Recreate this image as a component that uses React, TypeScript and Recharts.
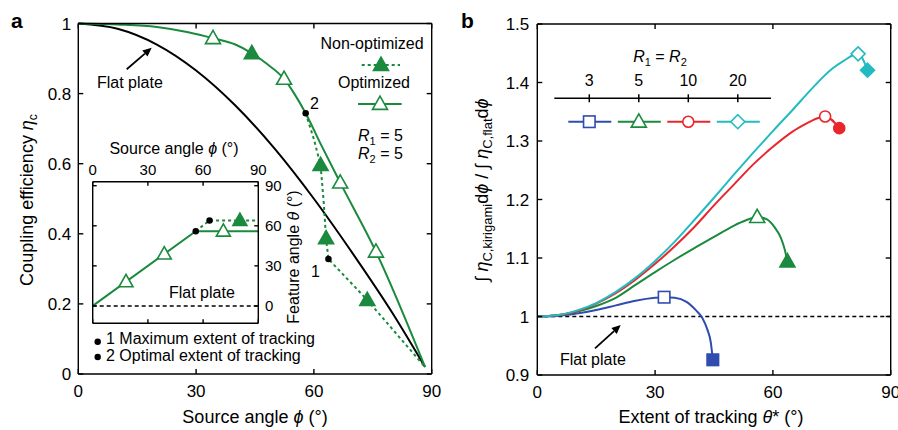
import React from "react";
import { ComposedChart, Line, Scatter, XAxis, YAxis, ReferenceLine } from "recharts";

const FONT = "'Liberation Sans', Arial, Helvetica, sans-serif";
const GREEN = "#1b8a3e";
const BLUE = "#2f4cae";
const RED = "#e8262c";
const CYAN = "#22bcc0";

// ---------- panel a : coupling efficiency vs source angle
const phiTicks = [0, 30, 60, 90];
const etaTicks = [0, 0.2, 0.4, 0.6, 0.8, 1];
const flatPlate = [
  { x: 0, y: 1 }, { x: 10, y: 0.985 }, { x: 20, y: 0.94 }, { x: 30, y: 0.866 },
  { x: 40, y: 0.766 }, { x: 50, y: 0.643 }, { x: 60, y: 0.5 }, { x: 70, y: 0.342 },
  { x: 80, y: 0.174 }, { x: 88.3, y: 0.02 },
];
const optimized = [
  { x: 0, y: 1 }, { x: 10, y: 0.997 }, { x: 20, y: 0.99 }, { x: 28, y: 0.975 },
  { x: 34.3, y: 0.958 }, { x: 40, y: 0.94 }, { x: 44.2, y: 0.915 }, { x: 48, y: 0.885 },
  { x: 52.4, y: 0.842 }, { x: 55, y: 0.8 }, { x: 57.9, y: 0.744 }, { x: 62, y: 0.65 },
  { x: 66.7, y: 0.546 }, { x: 75.8, y: 0.349 }, { x: 88.3, y: 0.02 },
];
const nonOptimized = [
  { x: 57.9, y: 0.744 }, { x: 60, y: 0.67 }, { x: 61.7, y: 0.596 }, { x: 62.5, y: 0.49 },
  { x: 63.1, y: 0.387 }, { x: 63.7, y: 0.328 }, { x: 73.6, y: 0.211 }, { x: 88.3, y: 0.02 },
];
const optMarkers = [
  { x: 34.3, y: 0.958 }, { x: 52.4, y: 0.842 }, { x: 66.7, y: 0.546 }, { x: 75.8, y: 0.349 },
];
const nonOptMarkers = [
  { x: 44.2, y: 0.915 }, { x: 61.7, y: 0.596 }, { x: 63.1, y: 0.387 }, { x: 73.6, y: 0.211 },
];
const trackingDots = [{ x: 57.9, y: 0.744 }, { x: 63.7, y: 0.328 }];

// ---------- inset : feature angle vs source angle
const insetTicks = [0, 30, 60, 90];
const insetOptimized = [{ x: 0, y: 0 }, { x: 56, y: 56 }, { x: 90, y: 56 }];
const insetNonOptimized = [{ x: 56, y: 56 }, { x: 63.5, y: 64 }, { x: 90, y: 64 }];
const insetOptMarkers = [{ x: 18.1, y: 18.1 }, { x: 38.9, y: 38.9 }, { x: 71, y: 56 }];
const insetNonOptMarkers = [{ x: 80, y: 64 }];
const insetDots = [{ x: 56, y: 56 }, { x: 63.5, y: 64 }];

// ---------- panel b : integrated efficiency ratio vs extent of tracking
const thetaTicks = [0, 30, 60, 90];
const ratioTicks = [0.9, 1, 1.1, 1.2, 1.3, 1.4, 1.5];
const r3 = [
  { x: 0, y: 1 }, { x: 5, y: 1.001 }, { x: 10, y: 1.005 }, { x: 15, y: 1.011 },
  { x: 20, y: 1.019 }, { x: 25, y: 1.027 }, { x: 30, y: 1.032 }, { x: 32.3, y: 1.033 },
  { x: 35, y: 1.032 }, { x: 38, y: 1.025 }, { x: 40.5, y: 1.01 }, { x: 42, y: 0.998 },
  { x: 43.3, y: 0.978 }, { x: 44.2, y: 0.955 }, { x: 44.7, y: 0.926 },
];
const r5 = [
  { x: 0, y: 1 }, { x: 5, y: 1.002 }, { x: 10, y: 1.008 }, { x: 15, y: 1.018 },
  { x: 20, y: 1.032 }, { x: 25, y: 1.054 }, { x: 30, y: 1.076 }, { x: 35, y: 1.097 },
  { x: 40, y: 1.117 }, { x: 45, y: 1.136 }, { x: 50, y: 1.155 }, { x: 53, y: 1.164 },
  { x: 56, y: 1.17 }, { x: 58.5, y: 1.166 }, { x: 60.5, y: 1.152 }, { x: 62, y: 1.135 },
  { x: 63, y: 1.115 }, { x: 63.7, y: 1.094 },
];
const r10 = [
  { x: 0, y: 1 }, { x: 5, y: 1.002 }, { x: 10, y: 1.009 }, { x: 15, y: 1.022 },
  { x: 20, y: 1.04 }, { x: 25, y: 1.063 }, { x: 30, y: 1.09 }, { x: 35, y: 1.12 },
  { x: 40, y: 1.153 }, { x: 45, y: 1.19 }, { x: 50, y: 1.225 }, { x: 55, y: 1.26 },
  { x: 60, y: 1.29 }, { x: 65, y: 1.316 }, { x: 68.6, y: 1.33 }, { x: 71, y: 1.338 },
  { x: 73.3, y: 1.342 }, { x: 76.9, y: 1.322 },
];
const r20 = [
  { x: 0, y: 1 }, { x: 5, y: 1.002 }, { x: 10, y: 1.01 }, { x: 15, y: 1.023 },
  { x: 20, y: 1.042 }, { x: 25, y: 1.066 }, { x: 30, y: 1.095 }, { x: 35, y: 1.128 },
  { x: 40, y: 1.165 }, { x: 45, y: 1.203 }, { x: 50, y: 1.242 }, { x: 55, y: 1.28 },
  { x: 60, y: 1.317 }, { x: 65, y: 1.353 }, { x: 70, y: 1.39 }, { x: 75, y: 1.423 },
  { x: 78, y: 1.437 }, { x: 81.7, y: 1.449 }, { x: 84.1, y: 1.421 },
];
const r3Optimal = [{ x: 32.3, y: 1.033 }];
const r3Max = [{ x: 44.7, y: 0.926 }];
const r5Optimal = [{ x: 56, y: 1.17 }];
const r5Max = [{ x: 63.7, y: 1.094 }];
const r10Optimal = [{ x: 73.3, y: 1.342 }];
const r10Max = [{ x: 76.9, y: 1.322 }];
const r20Optimal = [{ x: 81.7, y: 1.449 }];
const r20Max = [{ x: 84.1, y: 1.421 }];
const legendR = ["3", "5", "10", "20"];

type Kind = "tri" | "sq" | "circ" | "dia" | "dot";

const shape = (kind: Kind, color: string, filled: boolean, s = 14) => (p: any) => {
  const { cx, cy } = p;
  const fill = filled ? color : "#fff";
  const sw = 1.6;
  if (kind === "tri")
    return (
      <polygon
        points={`${cx},${cy - s * 0.52} ${cx - s / 2},${cy + s * 0.36} ${cx + s / 2},${cy + s * 0.36}`}
        fill={fill}
        stroke={color}
        strokeWidth={sw}
      />
    );
  if (kind === "sq")
    return <rect x={cx - s / 2} y={cy - s / 2} width={s} height={s} fill={fill} stroke={color} strokeWidth={sw} />;
  if (kind === "circ") return <circle cx={cx} cy={cy} r={s / 2} fill={fill} stroke={color} strokeWidth={sw} />;
  if (kind === "dia")
    return (
      <polygon
        points={`${cx},${cy - s / 2} ${cx + s / 2},${cy} ${cx},${cy + s / 2} ${cx - s / 2},${cy}`}
        fill={fill}
        stroke={color}
        strokeWidth={sw}
      />
    );
  return <circle cx={cx} cy={cy} r={s / 2} fill={color} />;
};

const axisLine = { stroke: "#000", strokeWidth: 1.4 };
const tickA = { fill: "#000", fontSize: 17 };
const tickInset = { fill: "#000", fontSize: 15 };
const blank = () => "";

function arrow(x1: number, y1: number, x2: number, y2: number) {
  const a = Math.atan2(y2 - y1, x2 - x1);
  const L = 9;
  const W = 4;
  const bx = x2 - L * Math.cos(a);
  const by = y2 - L * Math.sin(a);
  const px = -Math.sin(a) * W;
  const py = Math.cos(a) * W;
  return (
    <g>
      <line x1={x1} y1={y1} x2={bx} y2={by} stroke="#000" strokeWidth={1.8} />
      <polygon points={`${x2},${y2} ${bx + px},${by + py} ${bx - px},${by - py}`} fill="#000" />
    </g>
  );
}

function PanelA() {
  return (
    <ComposedChart width={450} height={430} margin={{ top: 0, right: 0, bottom: 0, left: 0 }}>
      <XAxis type="number" dataKey="x" domain={[0, 90]} ticks={phiTicks} interval={0} height={56}
        tickSize={-5} tickMargin={16} tick={tickA} axisLine={axisLine} tickLine={axisLine} />
      <XAxis xAxisId="t" orientation="top" type="number" dataKey="x" domain={[0, 90]} ticks={phiTicks}
        interval={0} height={23.5} tickSize={-5} tickFormatter={blank} axisLine={axisLine} tickLine={axisLine} />
      <YAxis type="number" dataKey="y" domain={[0, 1]} ticks={etaTicks} interval={0} width={78.3}
        tickSize={-5} tickMargin={12} tick={tickA} axisLine={axisLine} tickLine={axisLine} />
      <YAxis yAxisId="r" orientation="right" type="number" dataKey="y" domain={[0, 1]} ticks={etaTicks}
        interval={0} width={18.3} tickSize={-5} tickFormatter={blank} axisLine={axisLine} tickLine={axisLine} />
      {/* invisible series so the mirrored frame axes get their ticks */}
      <Line data={flatPlate} dataKey="y" xAxisId="t" yAxisId="r" stroke="none" dot={false} isAnimationActive={false} />
      <Line data={flatPlate} dataKey="y" type="monotone" stroke="#000" strokeWidth={2} dot={false} isAnimationActive={false} />
      <Line data={nonOptimized} dataKey="y" type="linear" stroke={GREEN} strokeWidth={2} strokeDasharray="3 3"
        dot={false} isAnimationActive={false} />
      <Line data={optimized} dataKey="y" type="monotone" stroke={GREEN} strokeWidth={2} dot={false} isAnimationActive={false} />
      <Scatter data={optMarkers} shape={shape("tri", GREEN, false, 15)} isAnimationActive={false} />
      <Scatter data={nonOptMarkers} shape={shape("tri", GREEN, true, 15)} isAnimationActive={false} />
      <Scatter data={trackingDots} shape={shape("dot", "#000", true, 6.5)} isAnimationActive={false} />
    </ComposedChart>
  );
}

function Inset() {
  return (
    <ComposedChart width={220} height={180} margin={{ top: 0, right: 0, bottom: 0, left: 0 }}>
      <XAxis type="number" dataKey="x" domain={[0, 90]} ticks={insetTicks} interval={0} height={6.7}
        tickSize={-4} tickFormatter={blank} axisLine={axisLine} tickLine={axisLine} />
      <XAxis xAxisId="t" orientation="top" type="number" dataKey="x" domain={[0, 90]} ticks={insetTicks}
        interval={0} height={31.7} tickSize={-4} tickMargin={10.7} tick={tickInset} axisLine={axisLine} tickLine={axisLine} />
      <YAxis type="number" dataKey="y" domain={[-13, 93]} ticks={insetTicks} interval={0} width={12.7}
        tickSize={-4} tickFormatter={blank} axisLine={axisLine} tickLine={axisLine} />
      <YAxis yAxisId="r" orientation="right" type="number" dataKey="y" domain={[-13, 93]} ticks={insetTicks}
        interval={0} width={41.7} tickSize={-4} tickMargin={10.7} tick={tickInset} axisLine={axisLine} tickLine={axisLine} />
      <Line data={insetOptimized} dataKey="y" xAxisId="t" yAxisId="r" stroke="none" dot={false} isAnimationActive={false} />
      <ReferenceLine y={0} stroke="#000" strokeWidth={1.6} strokeDasharray="4 3" />
      <Line data={insetNonOptimized} dataKey="y" type="linear" stroke={GREEN} strokeWidth={2} strokeDasharray="3 3"
        dot={false} isAnimationActive={false} />
      <Line data={insetOptimized} dataKey="y" type="linear" stroke={GREEN} strokeWidth={2} dot={false} isAnimationActive={false} />
      <Scatter data={insetOptMarkers} shape={shape("tri", GREEN, false, 14)} isAnimationActive={false} />
      <Scatter data={insetNonOptMarkers} shape={shape("tri", GREEN, true, 14)} isAnimationActive={false} />
      <Scatter data={insetDots} shape={shape("dot", "#000", true, 6.5)} isAnimationActive={false} />
    </ComposedChart>
  );
}

function PanelB() {
  return (
    <ComposedChart width={448} height={430} margin={{ top: 0, right: 0, bottom: 0, left: 0 }}>
      <XAxis type="number" dataKey="x" domain={[0, 90]} ticks={thetaTicks} interval={0} height={55}
        tickSize={-5} tickMargin={16} tick={tickA} axisLine={axisLine} tickLine={axisLine} />
      <XAxis xAxisId="t" orientation="top" type="number" dataKey="x" domain={[0, 90]} ticks={thetaTicks}
        interval={0} height={24} tickSize={-5} tickFormatter={blank} axisLine={axisLine} tickLine={axisLine} />
      <YAxis type="number" dataKey="y" domain={[0.9, 1.5]} ticks={ratioTicks} interval={0} width={87.3}
        tickSize={-5} tickMargin={13} tick={tickA} axisLine={axisLine} tickLine={axisLine} />
      <YAxis yAxisId="r" orientation="right" type="number" dataKey="y" domain={[0.9, 1.5]} ticks={ratioTicks}
        interval={0} width={7.3} tickSize={-5} tickFormatter={blank} axisLine={axisLine} tickLine={axisLine} />
      <Line data={r3} dataKey="y" xAxisId="t" yAxisId="r" stroke="none" dot={false} isAnimationActive={false} />
      <ReferenceLine y={1} stroke="#000" strokeWidth={1.6} strokeDasharray="4 3" />
      <Line data={r3} dataKey="y" type="monotone" stroke={BLUE} strokeWidth={2} dot={false} isAnimationActive={false} />
      <Line data={r5} dataKey="y" type="monotone" stroke={GREEN} strokeWidth={2} dot={false} isAnimationActive={false} />
      <Line data={r10} dataKey="y" type="monotone" stroke={RED} strokeWidth={2} dot={false} isAnimationActive={false} />
      <Line data={r20} dataKey="y" type="monotone" stroke={CYAN} strokeWidth={2} dot={false} isAnimationActive={false} />
      <Scatter data={r3Optimal} shape={shape("sq", BLUE, false, 11.5)} isAnimationActive={false} />
      <Scatter data={r3Max} shape={shape("sq", BLUE, true, 11.5)} isAnimationActive={false} />
      <Scatter data={r5Optimal} shape={shape("tri", GREEN, false, 15)} isAnimationActive={false} />
      <Scatter data={r5Max} shape={shape("tri", GREEN, true, 15)} isAnimationActive={false} />
      <Scatter data={r10Optimal} shape={shape("circ", RED, false, 11)} isAnimationActive={false} />
      <Scatter data={r10Max} shape={shape("circ", RED, true, 11)} isAnimationActive={false} />
      <Scatter data={r20Optimal} shape={shape("dia", CYAN, false, 14)} isAnimationActive={false} />
      <Scatter data={r20Max} shape={shape("dia", CYAN, true, 14)} isAnimationActive={false} />
    </ComposedChart>
  );
}

function Overlay() {
  const legendKinds: [Kind, string][] = [["sq", BLUE], ["tri", GREEN], ["circ", RED], ["dia", CYAN]];
  const legendSize = [11.5, 15, 11, 14];
  return (
    <svg width={898} height={430} style={{ position: "absolute", left: 0, top: 0, pointerEvents: "none" }}
      fontFamily={FONT}>
      <text x={11} y={28} fontSize={21} fontWeight="bold">a</text>
      <text x={461} y={28} fontSize={21} fontWeight="bold">b</text>

      {/* panel a axis titles */}
      <text x={255} y={423} fontSize={18} textAnchor="middle">
        Source angle <tspan fontStyle="italic">ϕ</tspan> (°)
      </text>
      <text transform="translate(33,200) rotate(-90)" fontSize={18} textAnchor="middle">
        Coupling efficiency <tspan fontStyle="italic">η</tspan>
        <tspan fontSize={12} dy={4}>c</tspan>
      </text>

      {/* panel a annotations */}
      <text x={97} y={88} fontSize={16}>Flat plate</text>
      {arrow(126.7, 69.3, 151.7, 47.7)}
      <text x={310} y={109} fontSize={16}>2</text>
      <text x={311} y={277} fontSize={16}>1</text>

      <text x={372} y={49} fontSize={16} textAnchor="middle">Non-optimized</text>
      <line x1={361.7} y1={65} x2={400} y2={65} stroke={GREEN} strokeWidth={2} strokeDasharray="3 3" />
      {shape("tri", GREEN, true, 15)({ cx: 381, cy: 65 })}
      <text x={374} y={88} fontSize={16} textAnchor="middle">Optimized</text>
      <line x1={358} y1={104} x2={401.7} y2={104} stroke={GREEN} strokeWidth={2} />
      {shape("tri", GREEN, false, 15)({ cx: 380, cy: 104 })}
      <text x={358} y={140.7} fontSize={16}>
        <tspan fontStyle="italic">R</tspan>
        <tspan fontSize={11} dy={4}>1</tspan>
        <tspan dy={-4}> = 5</tspan>
      </text>
      <text x={358} y={159} fontSize={16}>
        <tspan fontStyle="italic">R</tspan>
        <tspan fontSize={11} dy={4}>2</tspan>
        <tspan dy={-4}> = 5</tspan>
      </text>

      {/* inset titles */}
      <text x={174} y={154} fontSize={16} textAnchor="middle">
        Source angle <tspan fontStyle="italic">ϕ</tspan> (°)
      </text>
      <text transform="translate(299,257) rotate(-90)" fontSize={16} textAnchor="middle">
        Feature angle <tspan fontStyle="italic">θ</tspan> (°)
      </text>
      <text x={169} y={298} fontSize={16}>Flat plate</text>

      <circle cx={97.7} cy={341.7} r={3.2} fill="#000" />
      <text x={106} y={344} fontSize={16}>1 Maximum extent of tracking</text>
      <circle cx={97.7} cy={357} r={3.2} fill="#000" />
      <text x={106} y={360.5} fontSize={16}>2 Optimal extent of tracking</text>

      {/* panel b axis titles */}
      <text x={711} y={423} fontSize={18} textAnchor="middle">
        Extent of tracking <tspan fontStyle="italic">θ</tspan>* (°)
      </text>
      <text transform="translate(488,190) rotate(-90)" fontSize={18} textAnchor="middle">
        ∫ <tspan fontStyle="italic">η</tspan>
        <tspan fontSize={13} dy={4}>C,kirigami</tspan>
        <tspan dy={-4}>d</tspan>
        <tspan fontStyle="italic">ϕ</tspan> / ∫ <tspan fontStyle="italic">η</tspan>
        <tspan fontSize={13} dy={4}>C,flat</tspan>
        <tspan dy={-4}>d</tspan>
        <tspan fontStyle="italic">ϕ</tspan>
      </text>

      {/* panel b legend */}
      <text x={660} y={62} fontSize={16} textAnchor="middle">
        <tspan fontStyle="italic">R</tspan>
        <tspan fontSize={11} dy={4}>1</tspan>
        <tspan dy={-4}> = </tspan>
        <tspan fontStyle="italic">R</tspan>
        <tspan fontSize={11} dy={4}>2</tspan>
      </text>
      <line x1={554.3} y1={98.3} x2={771} y2={98.3} stroke="#000" strokeWidth={1.5} />
      {legendR.map((r, i) => {
        const cx = 589.3 + i * 49.5;
        const [k, c] = legendKinds[i];
        return (
          <g key={r}>
            <line x1={cx} y1={94.3} x2={cx} y2={102.3} stroke="#000" strokeWidth={1.5} />
            <text x={cx} y={86} fontSize={16} textAnchor="middle">{r}</text>
            <line x1={cx - 21} y1={121.7} x2={cx + 22} y2={121.7} stroke={c} strokeWidth={2} />
            {shape(k, c, false, legendSize[i])({ cx, cy: 121.7 })}
          </g>
        );
      })}

      <text x={560} y={365} fontSize={16}>Flat plate</text>
      {arrow(595, 348.3, 620.7, 325)}
    </svg>
  );
}

export default function App() {
  return (
    <div style={{ position: "absolute", left: 0, top: 0, width: 898, height: 430, background: "#fff", fontFamily: FONT }}>
      <div style={{ position: "absolute", left: 0, top: 0 }}>
        <PanelA />
      </div>
      <div style={{ position: "absolute", left: 80, top: 150 }}>
        <Inset />
      </div>
      <div style={{ position: "absolute", left: 450, top: 0 }}>
        <PanelB />
      </div>
      <Overlay />
    </div>
  );
}
